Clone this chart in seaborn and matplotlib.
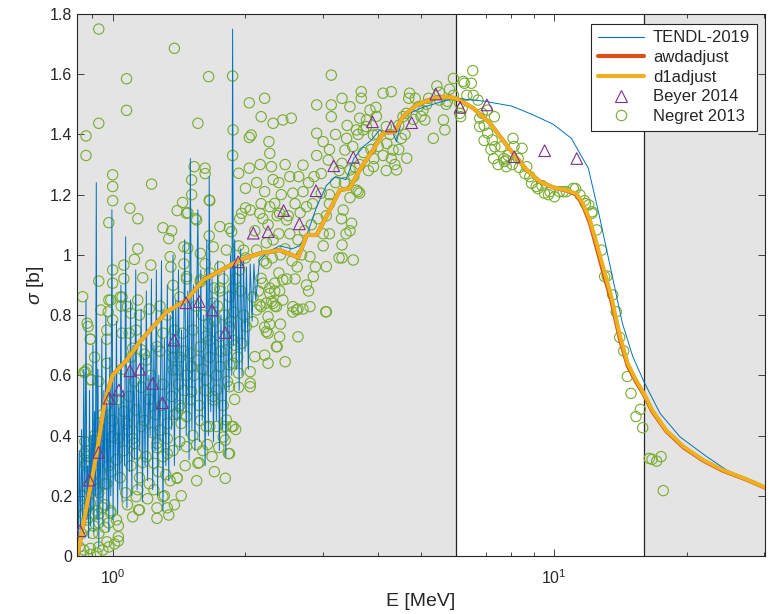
import numpy as np
import pandas as pd
import matplotlib
matplotlib.use('Agg')
import matplotlib.pyplot as plt
from matplotlib.lines import Line2D
from matplotlib.ticker import FuncFormatter, NullFormatter, MultipleLocator
import seaborn as sns


# colours (matlab default order)
c_tendl = '#0072BD'
c_awd = '#D95319'
c_d1 = '#EDB120'
c_beyer = '#7E2F8E'
c_negret = '#77AC30'

# TENDL-2019, resonance region then smooth part
tendl_E = [0.835, 0.840, 0.845, 0.850, 0.855, 0.860, 0.865, 0.870, 0.874, 0.878,
           0.882, 0.886, 0.890, 0.894, 0.898, 0.902, 0.906, 0.910, 0.914, 0.918,
           0.922, 0.926, 0.930, 0.935, 0.940, 0.945, 0.950, 0.955, 0.960, 0.965,
           0.970, 0.975, 0.980, 0.985, 0.990, 0.996, 1.002, 1.008, 1.014, 1.020,
           1.026, 1.032, 1.038, 1.044, 1.050, 1.057, 1.064, 1.070, 1.077, 1.084,
           1.091, 1.098, 1.105, 1.112, 1.120, 1.128, 1.136, 1.144, 1.152, 1.160,
           1.168, 1.176, 1.184, 1.192, 1.200, 1.208, 1.216, 1.224, 1.232, 1.240,
           1.248, 1.256, 1.264, 1.272, 1.280, 1.290, 1.300, 1.310, 1.320, 1.330,
           1.340, 1.350, 1.360, 1.370, 1.380, 1.390, 1.400, 1.410, 1.420, 1.432,
           1.444, 1.456, 1.468, 1.480, 1.490, 1.500, 1.512, 1.524, 1.536, 1.548,
           1.560, 1.572, 1.584, 1.596, 1.608, 1.620, 1.634, 1.648, 1.655, 1.668,
           1.680, 1.692, 1.705, 1.718, 1.730, 1.745, 1.760, 1.775, 1.790, 1.805,
           1.820, 1.835, 1.850, 1.862, 1.870, 1.878, 1.890, 1.905, 1.920, 1.935,
           1.950, 1.965, 1.980, 1.995, 2.010, 2.030, 2.050, 2.070, 2.090, 2.110,
           2.150, 2.25, 2.39, 2.55, 2.65, 2.76, 2.90, 3.05, 3.20, 3.38,
           3.52, 3.70, 3.85, 4.03, 4.18, 4.30, 4.40, 4.52, 4.70, 5.05,
           5.60, 6.0, 6.5, 7.0, 7.42, 8.03, 8.97, 9.96, 10.96, 11.45,
           11.97, 12.69, 13.75, 14.3, 15.1, 16.0, 17.4, 19.3, 22.2, 24.6,
           27.3, 30.1]
tendl_sig = [0.02, 0.35, 0.05, 0.42, 0.08, 0.62, 0.10, 0.85, 0.12, 0.30,
             0.06, 0.55, 0.10, 0.40, 0.15, 0.70, 0.08, 0.48, 0.20, 1.24,
             0.12, 0.62, 0.03, 0.45, 0.18, 0.72, 0.10, 0.55, 0.22, 0.80,
             0.15, 0.50, 0.08, 0.66, 0.20, 1.15, 0.12, 0.60, 0.25, 0.78,
             0.14, 0.50, 0.22, 0.90, 0.18, 0.55, 0.30, 1.06, 0.16, 0.62,
             0.28, 0.85, 0.20, 0.70, 0.32, 0.95, 0.22, 0.58, 0.35, 0.82,
             0.18, 0.66, 0.30, 0.88, 0.25, 0.60, 0.40, 0.92, 0.22, 0.70,
             0.35, 0.95, 0.20, 0.60, 0.38, 0.98, 0.15, 0.72, 0.30, 0.90,
             0.25, 0.80, 0.42, 1.00, 0.30, 0.85, 0.45, 0.95, 0.35, 0.75,
             0.48, 1.05, 0.40, 0.88, 0.32, 1.32, 0.42, 0.90, 0.35, 0.78,
             1.15, 0.38, 0.95, 0.45, 0.80, 0.30, 1.05, 0.40, 1.26, 0.48,
             0.92, 0.38, 0.85, 0.45, 0.98, 0.35, 0.80, 0.42, 0.95, 0.33,
             0.88, 0.55, 1.00, 0.60, 1.75, 0.70, 1.05, 0.62, 0.98, 0.55,
             1.02, 0.60, 0.98, 0.68, 0.96, 0.62, 0.97, 0.78, 0.97, 0.85,
             0.98, 1.01, 1.03, 1.02, 1.03, 1.07, 1.16, 1.23, 1.26, 1.25,
             1.32, 1.36, 1.38, 1.415, 1.40, 1.41, 1.376, 1.448, 1.47, 1.49,
             1.51, 1.52, 1.515, 1.51, 1.503, 1.494, 1.465, 1.434, 1.387, 1.337,
             1.288, 1.127, 0.89, 0.773, 0.662, 0.579, 0.474, 0.396, 0.330, 0.286,
             0.255, 0.228]

# d1adjust and awdadjust (nearly on top of each other)
d1_E = [0.831, 0.873, 0.920, 0.961, 1.0, 1.076, 1.153, 1.236, 1.326, 1.47,
        1.605, 1.943, 2.155, 2.393, 2.633, 2.753, 2.899, 3.05, 3.27, 3.446,
        3.63, 3.89, 4.10, 4.36, 4.55, 4.88, 5.33, 5.70, 6.0, 6.57,
        7.17, 7.55, 8.08, 8.68, 9.30, 9.96, 10.67, 11.24, 11.64, 12.07,
        12.5, 12.93, 13.5, 14.1, 14.7, 15.35, 16.0, 16.7, 17.97, 19.7,
        21.8, 24.1, 27.3, 30.1]
d1_sig = [0.0, 0.164, 0.341, 0.518, 0.601, 0.651, 0.712, 0.762, 0.811, 0.850,
          0.917, 0.983, 1.005, 1.016, 0.991, 1.066, 1.066, 1.127, 1.215, 1.221,
          1.282, 1.348, 1.404, 1.409, 1.459, 1.498, 1.520, 1.525, 1.520, 1.487,
          1.437, 1.393, 1.337, 1.282, 1.243, 1.224, 1.215, 1.204, 1.171, 1.116,
          1.039, 0.961, 0.861, 0.735, 0.640, 0.585, 0.540, 0.485, 0.418, 0.363,
          0.319, 0.286, 0.255, 0.228]
awd_sig = [0.0, 0.164, 0.341, 0.518, 0.601, 0.651, 0.712, 0.762, 0.811, 0.850,
           0.917, 0.983, 1.005, 1.016, 0.991, 1.066, 1.066, 1.127, 1.215, 1.221,
           1.282, 1.348, 1.404, 1.409, 1.459, 1.498, 1.520, 1.525, 1.520, 1.487,
           1.437, 1.393, 1.337, 1.282, 1.243, 1.224, 1.214, 1.201, 1.165, 1.106,
           1.025, 0.945, 0.848, 0.723, 0.632, 0.579, 0.536, 0.481, 0.415, 0.360,
           0.317, 0.284, 0.254, 0.227]

# Beyer 2014
beyer_E = [0.843, 0.885, 0.930, 0.982, 1.033, 1.094, 1.153, 1.232, 1.296, 1.377,
           1.466, 1.571, 1.679, 1.800, 1.926, 2.083, 2.25, 2.44, 2.65, 2.89,
           3.17, 3.51, 3.88, 4.28, 4.76, 5.40, 6.13, 7.05, 8.13, 9.53, 11.27]
beyer_sig = [0.084, 0.252, 0.344, 0.524, 0.551, 0.615, 0.620, 0.573, 0.509, 0.717,
             0.841, 0.845, 0.817, 0.742, 0.977, 1.072, 1.077, 1.147, 1.103, 1.213,
             1.296, 1.324, 1.442, 1.428, 1.439, 1.534, 1.490, 1.498, 1.326, 1.346, 1.320]

# Negret 2013, (E, sigma) split by energy range
negret_lo = [
    (0.93, 1.75), (0.87, 1.395), (0.87, 1.33), (0.93, 1.437), (1.075, 1.585), (1.075, 1.48),
    (1.0, 1.266), (1.0, 1.227), (1.0, 1.18), (0.98, 1.107), (1.094, 1.155), (1.14, 1.12),
    (1.14, 1.02), (1.12, 0.985), (1.06, 0.966), (1.17, 0.924), (0.93, 0.913), (1.0, 0.906),
    (1.0, 0.95), (1.06, 0.921), (0.855, 0.861), (0.88, 0.762), (0.89, 0.72), (0.866, 0.612),
    (0.896, 0.585), (0.93, 0.58), (0.97, 0.64), (0.977, 0.811), (0.98, 0.85), (1.04, 0.86),
    (1.045, 0.83), (1.10, 0.806), (1.15, 0.80), (1.09, 0.74), (1.11, 0.69), (1.16, 0.685),
    (1.19, 0.65), (1.075, 0.44), (1.03, 0.39), (1.02, 0.32), (0.98, 0.30), (0.97, 0.24),
    (0.93, 0.21), (0.90, 0.25), (0.87, 0.30), (0.865, 0.34), (0.865, 0.38), (0.91, 0.40),
    (0.93, 0.44), (0.95, 0.47), (0.97, 0.50), (1.0, 0.52), (1.03, 0.52), (1.0, 0.45),
    (1.02, 0.12), (1.03, 0.064), (1.01, 0.04), (0.98, 0.03), (0.95, 0.02), (0.92, 0.01),
    (0.89, 0.005), (0.86, 0.0), (0.84, 0.03), (0.85, 0.075), (0.87, 0.095), (0.90, 0.075),
    (0.93, 0.075), (0.96, 0.095), (0.93, 0.14), (0.90, 0.14), (0.87, 0.16), (0.95, 0.16),
    (0.99, 0.143), (0.85, 0.20), (0.875, 0.23), (0.91, 0.27), (1.13, 0.197), (1.15, 0.153),
    (1.17, 0.31), (1.13, 0.34), (1.11, 0.39), (1.03, 0.05), (1.03, 0.10), (0.97, 0.047),
    (0.93, 0.03), (0.89, 0.025), (0.86, 0.02), (1.145, 0.153), (1.2, 0.19), (1.14, 0.22),
    (1.08, 0.418), (1.12, 0.374), (1.19, 0.33), (1.10, 0.30), (1.06, 0.35), (1.0, 0.396),
    (0.96, 0.37), (0.905, 0.385), (0.875, 0.33), (0.87, 0.31), (0.87, 0.35), (0.99, 0.28),
    (0.96, 0.24), (0.92, 0.22), (0.89, 0.175), (0.92, 0.15), (0.96, 0.17), (0.99, 0.15),
    (0.875, 0.12), (0.905, 0.10), (0.93, 0.11), (0.86, 0.14), (0.98, 0.11), (1.13, 0.485),
    (1.21, 0.52), (1.18, 0.67), (1.10, 0.66), (1.05, 0.62), (0.89, 0.585), (0.875, 0.62),
    (0.86, 0.61), (0.91, 0.66), (0.97, 0.72), (1.05, 0.74), (1.13, 0.75), (0.97, 0.75),
    (1.0, 0.784), (1.08, 0.828), (1.14, 0.85), (1.21, 0.82), (1.05, 0.86), (0.99, 0.85),
    (0.94, 0.817), (0.875, 0.773), (0.89, 0.72), (1.16, 0.56), (1.09, 0.53), (1.06, 0.48),
    (1.12, 0.58), (1.16, 0.43), (1.04, 0.26), (1.07, 0.21), (1.11, 0.13), (1.08, 0.17),
    (1.18, 0.45), (1.15, 0.26),
]
negret_mid = [
    (1.225, 1.235), (1.22, 0.966), (1.38, 1.686), (1.65, 1.592), (1.56, 1.437), (2.04, 1.505),
    (2.06, 1.398), (2.04, 1.39), (1.87, 1.594), (1.875, 1.415), (1.87, 1.33), (1.93, 1.271),
    (2.04, 1.288), (2.0, 1.221), (1.53, 1.293), (1.62, 1.288), (1.62, 1.27), (1.51, 1.249),
    (1.51, 1.20), (1.655, 1.182), (1.44, 1.174), (1.40, 1.147), (1.48, 1.14), (1.55, 1.116),
    (1.655, 1.063), (1.75, 1.094), (1.84, 1.088), (1.94, 1.12), (2.0, 1.156), (1.93, 1.03),
    (2.0, 0.99), (1.30, 1.09), (1.34, 1.054), (1.36, 1.08), (1.45, 1.027), (1.45, 0.97),
    (1.35, 0.994), (1.355, 0.96), (1.37, 0.899), (1.47, 0.928), (1.58, 0.91), (1.66, 0.94),
    (1.75, 0.96), (1.75, 0.89), (1.87, 0.89), (1.70, 0.89), (1.26, 0.695), (1.30, 0.74),
    (1.37, 0.66), (1.40, 0.618), (1.45, 0.68), (1.47, 0.60), (1.51, 0.63), (1.56, 0.65),
    (1.63, 0.73), (1.70, 0.78), (1.79, 0.80), (1.84, 0.76), (1.89, 0.70), (1.84, 0.635),
    (1.72, 0.60), (1.69, 0.53), (1.62, 0.55), (1.51, 0.545), (1.63, 0.43), (1.72, 0.43),
    (1.80, 0.43), (1.86, 0.43), (1.78, 0.395), (1.84, 0.34), (1.80, 0.258), (1.57, 0.31),
    (1.47, 0.363), (1.43, 0.44), (1.38, 0.47), (1.28, 0.418), (1.26, 0.36), (1.33, 0.34),
    (1.35, 0.25), (1.40, 0.26), (1.30, 0.197), (1.33, 0.16), (1.26, 0.16), (1.47, 1.138),
    (1.54, 1.12), (1.66, 1.18), (1.86, 1.077), (1.96, 1.138), (2.05, 1.149), (1.48, 1.022),
    (1.58, 1.005), (1.69, 1.027), (1.81, 1.016), (1.98, 1.016), (1.93, 0.607), (1.96, 0.706),
    (1.81, 0.684), (1.75, 0.629), (1.875, 0.64), (1.875, 0.717), (1.75, 0.73), (1.66, 0.717),
    (1.58, 0.695), (1.50, 0.673), (1.44, 0.74), (1.52, 0.75), (1.65, 0.77), (1.85, 0.78),
    (2.01, 0.762), (1.69, 0.84), (1.58, 0.917), (1.47, 0.92), (1.42, 0.86), (1.75, 0.88),
    (1.84, 0.861), (1.94, 0.95), (1.63, 0.585), (1.72, 0.551), (1.84, 0.562), (1.93, 0.56),
    (1.69, 0.518), (1.78, 0.50), (1.89, 0.52), (1.81, 0.452), (1.875, 0.43), (1.66, 0.43),
    (1.58, 0.45), (1.47, 0.463), (1.42, 0.50), (1.50, 0.52), (1.57, 0.50), (1.56, 0.308),
    (1.80, 0.385), (1.83, 0.34), (1.9, 0.42), (2.05, 0.562), (2.05, 0.612), (2.05, 0.574),
    (1.26, 0.125), (1.34, 0.136), (1.31, 0.20), (1.40, 0.258), (1.26, 0.374), (1.33, 0.39),
    (1.40, 0.474), (1.43, 0.49), (1.24, 0.308), (1.30, 0.33), (1.30, 0.57), (1.37, 0.618),
    (1.42, 0.66), (1.37, 0.69), (1.28, 0.68), (1.28, 0.83), (1.33, 0.80), (1.38, 0.75),
    (2.08, 0.778), (1.22, 0.60), (1.25, 0.47), (1.29, 0.50), (1.33, 0.44), (1.36, 0.53),
    (1.41, 0.57), (1.45, 0.55), (1.23, 0.41), (1.27, 0.28), (1.32, 0.27), (1.37, 0.35),
    (1.42, 0.38), (1.46, 0.30), (1.21, 0.24), (1.24, 0.22), (1.38, 0.17), (1.43, 0.20),
    (1.52, 0.40), (1.55, 0.37), (1.60, 0.35), (1.64, 0.37), (1.68, 0.33), (1.53, 0.60),
    (1.60, 0.62), (1.66, 0.66), (1.76, 0.68), (1.82, 0.58), (1.92, 0.66), (1.98, 0.80),
    (1.95, 0.88), (1.90, 0.92), (1.78, 0.92), (1.62, 0.97), (1.54, 0.83), (1.60, 0.80),
    (1.73, 0.83), (1.88, 0.81), (1.55, 0.25), (1.70, 0.28), (1.74, 0.36), (2.08, 0.86),
]
negret_hi = [
    (2.155, 1.138), (2.27, 1.16), (2.39, 1.138), (2.12, 1.016), (2.23, 0.972), (2.17, 0.922),
    (2.33, 0.906), (2.43, 0.917), (2.27, 0.89), (2.39, 0.88), (2.29, 0.845), (2.17, 0.828),
    (2.35, 0.828), (2.25, 0.795), (2.25, 0.74), (2.21, 0.76), (2.39, 0.728), (2.35, 0.695),
    (2.21, 0.667), (2.25, 0.64), (2.10, 0.662), (2.12, 0.817), (3.13, 1.597), (2.21, 1.52),
    (2.17, 1.459), (2.31, 1.437), (2.43, 1.448), (2.54, 1.454), (2.90, 1.498), (3.13, 1.498),
    (3.31, 1.52), (3.45, 1.492), (3.66, 1.542), (3.66, 1.52), (3.13, 1.459), (2.26, 1.376),
    (2.27, 1.337), (2.29, 1.293), (2.31, 1.25), (2.70, 1.298), (2.90, 1.404), (3.0, 1.376),
    (2.90, 1.33), (3.08, 1.315), (3.39, 1.387), (3.57, 1.415), (3.63, 1.454), (3.76, 1.426),
    (3.36, 1.348), (3.31, 1.304), (3.26, 1.28), (3.45, 1.282), (3.55, 1.29), (3.57, 1.215),
    (3.60, 1.21), (3.45, 1.19), (3.33, 1.149), (3.30, 1.12), (3.48, 1.105), (3.45, 1.08),
    (3.38, 1.07), (3.31, 1.033), (3.31, 0.99), (3.51, 0.983), (3.26, 0.99), (3.05, 0.961),
    (3.0, 1.03), (3.0, 1.07), (3.10, 1.07), (3.05, 1.13), (3.10, 1.17), (3.10, 1.20),
    (2.97, 1.205), (2.84, 1.17), (2.75, 1.16), (2.70, 1.21), (2.59, 1.17), (2.56, 1.205),
    (2.52, 1.26), (2.38, 1.24), (2.33, 1.171), (2.21, 1.21), (2.17, 1.17), (2.19, 1.12),
    (2.36, 1.13), (2.48, 1.116), (2.38, 1.07), (2.31, 1.05), (2.23, 1.04), (2.52, 1.07),
    (2.63, 1.05), (2.80, 0.994), (2.88, 0.96), (2.85, 0.928), (2.75, 0.90), (2.78, 0.88),
    (2.59, 0.92), (2.48, 0.92), (2.38, 0.94), (2.19, 0.906), (2.27, 0.872), (2.33, 0.88),
    (2.23, 0.84), (2.33, 0.83), (2.56, 0.828), (2.63, 0.82), (3.05, 0.811), (2.56, 0.81),
    (2.155, 0.834), (2.31, 0.839), (2.43, 0.85), (2.61, 0.817), (2.7, 0.82), (2.80, 0.828),
    (3.04, 0.811), (2.27, 0.77), (2.4, 0.77), (2.63, 0.728), (2.36, 0.695), (2.46, 0.645),
    (2.23, 0.745), (4.1, 1.537), (4.28, 1.542), (4.71, 1.537), (4.69, 1.52), (5.43, 1.561),
    (5.92, 1.586), (3.83, 1.481), (3.95, 1.49), (3.96, 1.46), (4.17, 1.426), (3.76, 1.448),
    (3.70, 1.415), (3.90, 1.398), (3.98, 1.40), (4.18, 1.37), (4.51, 1.387), (4.32, 1.348),
    (4.28, 1.32), (4.36, 1.30), (4.64, 1.321), (4.40, 1.282), (4.17, 1.28), (3.90, 1.293),
    (3.80, 1.28), (3.63, 1.30), (3.63, 1.205), (3.91, 1.32), (4.55, 1.459), (4.63, 1.47),
    (4.93, 1.492), (5.05, 1.48), (5.10, 1.448), (5.15, 1.50), (5.51, 1.514), (5.62, 1.448),
    (5.66, 1.415), (5.33, 1.387), (4.45, 1.35), (4.85, 1.52), (5.74, 1.51), (5.92, 1.53),
    (2.14, 0.88), (2.20, 0.98), (2.30, 0.99), (2.40, 1.00), (2.46, 1.02), (2.55, 0.98),
    (2.62, 0.96), (2.68, 1.00), (2.72, 1.08), (2.82, 1.10), (2.92, 1.12), (2.97, 1.27),
    (2.86, 1.26), (2.78, 1.24), (2.64, 1.26), (2.46, 1.30), (2.41, 1.20), (2.16, 1.30),
    (2.12, 1.24), (2.10, 1.08), (2.25, 1.10), (2.50, 1.13), (2.66, 1.14), (3.20, 1.24),
    (3.35, 1.24), (3.52, 1.26), (3.70, 1.34), (3.85, 1.35), (4.0, 1.36), (4.1, 1.33),
    (4.25, 1.40), (4.45, 1.43), (4.6, 1.40), (4.8, 1.45), (5.0, 1.46), (5.2, 1.52),
    (5.5, 1.54), (5.8, 1.55), (5.7, 1.50), (3.5, 1.36), (3.6, 1.40), (3.4, 1.43),
    (3.2, 1.40), (3.1, 1.35),
]
negret_fast = [
    (6.23, 1.576), (6.12, 1.503), (6.12, 1.47), (6.55, 1.612), (6.27, 1.57), (6.5, 1.57),
    (6.35, 1.53), (6.57, 1.53), (6.73, 1.514), (6.2, 1.487), (6.15, 1.459), (6.79, 1.454),
    (6.88, 1.47), (7.07, 1.481), (7.33, 1.459), (6.79, 1.426), (6.95, 1.43), (7.08, 1.404),
    (6.95, 1.38), (7.25, 1.382), (7.35, 1.359), (7.2, 1.35), (7.3, 1.32), (7.6, 1.359),
    (7.7, 1.32), (7.47, 1.30), (7.80, 1.315), (8.08, 1.387), (8.12, 1.36), (8.47, 1.354),
    (8.3, 1.32), (7.87, 1.33), (7.72, 1.31), (7.8, 1.293), (8.05, 1.30), (8.35, 1.29),
    (8.68, 1.293), (8.82, 1.26), (8.6, 1.27), (8.90, 1.238), (9.12, 1.227), (9.2, 1.22),
    (9.52, 1.205), (9.72, 1.20), (10.03, 1.193), (10.3, 1.21), (10.67, 1.21), (11.07, 1.221),
    (11.2, 1.22), (11.46, 1.199), (11.73, 1.18), (12.0, 1.166), (12.2, 1.138), (11.8, 1.17),
    (9.4, 1.23), (9.8, 1.21), (10.5, 1.21), (12.2, 1.143), (12.5, 1.083), (12.83, 1.016),
    (13.03, 0.928), (13.2, 0.93), (13.6, 0.867), (13.85, 0.811), (14.1, 0.726), (14.4, 0.681),
    (14.67, 0.596), (14.96, 0.54), (15.7, 0.487), (15.35, 0.463), (15.9, 0.426), (16.45, 0.324),
    (16.7, 0.321), (17.1, 0.315), (17.5, 0.33), (17.7, 0.217),
]

negret = pd.DataFrame(negret_lo + negret_mid + negret_hi + negret_fast, columns=['E', 'sigma'])

xmin, xmax = 0.83, 30.1
shade_lo, shade_hi = 6.0, 16.0
gray = '#e4e4e4'
axcol = '#262626'

sns.set_style('ticks')
plt.rcParams['font.family'] = ['Liberation Sans', 'DejaVu Sans']
plt.rcParams['mathtext.fontset'] = 'custom'
plt.rcParams['mathtext.rm'] = 'Liberation Sans'
plt.rcParams['mathtext.it'] = 'Liberation Sans:italic'

fig = plt.figure(figsize=(7.69, 6.14), dpi=100)
ax = fig.add_axes([0.1001, 0.0945, 0.8947, 0.8827])

# shaded regions
ax.axvspan(xmin, shade_lo, facecolor=gray, edgecolor='none', zorder=0)
ax.axvspan(shade_hi, xmax, facecolor=gray, edgecolor='none', zorder=0)
ax.axvline(shade_lo, color=axcol, lw=0.9, zorder=0.5)
ax.axvline(shade_hi, color=axcol, lw=0.9, zorder=0.5)

sns.scatterplot(data=negret, x='E', y='sigma', marker='o', s=55, facecolor='none',
                edgecolor=c_negret, linewidth=0.8, ax=ax, legend=False, zorder=1)
sns.lineplot(x=tendl_E, y=tendl_sig, color=c_tendl, lw=0.7, estimator=None, sort=False,
             ax=ax, legend=False, zorder=2)
sns.lineplot(x=d1_E, y=awd_sig, color=c_awd, lw=3.0, estimator=None, sort=False,
             ax=ax, legend=False, zorder=2.1)
sns.lineplot(x=d1_E, y=d1_sig, color=c_d1, lw=2.8, estimator=None, sort=False,
             ax=ax, legend=False, zorder=2.2)
sns.scatterplot(x=beyer_E, y=beyer_sig, marker='^', s=70, facecolor='none',
                edgecolor=c_beyer, linewidth=0.8, ax=ax, legend=False, zorder=3)

ax.set_xscale('log')
ax.set_xlim(xmin, xmax)
ax.set_ylim(0, 1.8)
ax.yaxis.set_major_locator(MultipleLocator(0.2))
ax.yaxis.set_major_formatter(FuncFormatter(lambda v, p: '%g' % round(v, 2)))
ax.xaxis.set_minor_formatter(NullFormatter())

ax.tick_params(which='both', direction='in', top=True, right=True, colors=axcol,
               labelsize=11.5, width=0.6)
ax.tick_params(axis='x', which='major', pad=9)
ax.tick_params(which='major', length=5)
ax.tick_params(which='minor', length=3)
for sp in ax.spines.values():
    sp.set_color(axcol)
    sp.set_linewidth(0.8)

ax.set_xlabel('E [MeV]', fontsize=14, color=axcol, labelpad=4)
ax.set_ylabel(r'$\sigma$ [b]', fontsize=14, color=axcol, labelpad=3)

handles = [
    Line2D([], [], color=c_tendl, lw=0.8),
    Line2D([], [], color=c_awd, lw=3.0),
    Line2D([], [], color=c_d1, lw=3.0),
    Line2D([], [], ls='none', marker='^', ms=8.5, mfc='none', mec=c_beyer, mew=0.8),
    Line2D([], [], ls='none', marker='o', ms=7.5, mfc='none', mec=c_negret, mew=0.8),
]
labels = ['TENDL-2019', 'awdadjust', 'd1adjust', 'Beyer 2014', 'Negret 2013']
leg = ax.legend(handles, labels, loc='upper right', bbox_to_anchor=(0.988, 0.982),
                borderaxespad=0, fontsize=12, handlelength=2.8, labelspacing=0.28,
                handletextpad=0.5, borderpad=0.4, fancybox=False, framealpha=1,
                edgecolor=axcol)
leg.get_frame().set_linewidth(0.8)
leg.set_zorder(5)

fig.savefig('out.png', dpi=100)
